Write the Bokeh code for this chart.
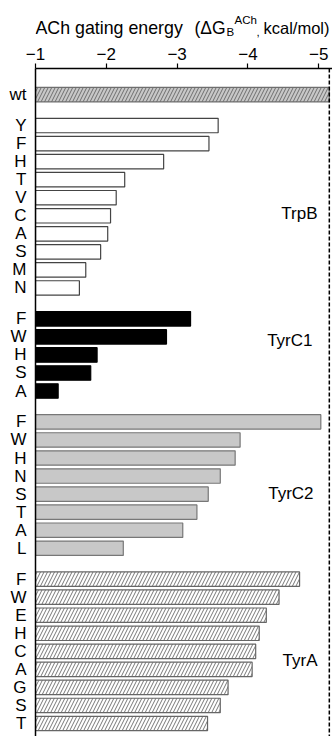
from bokeh.plotting import figure
from bokeh.layouts import column
from bokeh.models import Range1d, FixedTicker, Span, Label, ColumnDataSource
from bokeh.embed import file_html
from bokeh.resources import INLINE

# ---------------- data ----------------
wt_labels = ["wt"]
wt_values = [-5.15]

trpb_labels = ["Y", "F", "H", "T", "V", "C", "A", "S", "M", "N"]
trpb_values = [-3.58, -3.45, -2.81, -2.26, -2.14, -2.06, -2.02, -1.92, -1.71, -1.62]

tyrc1_labels = ["F", "W", "H", "S", "A"]
tyrc1_values = [-3.19, -2.85, -1.87, -1.78, -1.32]

tyrc2_labels = ["F", "W", "H", "N", "S", "T", "A", "L"]
tyrc2_values = [-5.03, -3.89, -3.82, -3.61, -3.44, -3.28, -3.08, -2.24]

tyra_labels = ["F", "W", "E", "H", "C", "A", "G", "S", "T"]
tyra_values = [-4.73, -4.44, -4.26, -4.16, -4.11, -4.06, -3.72, -3.61, -3.43]

group_names = ["wt", "TrpB", "TyrC1", "TyrC2", "TyrA"]
x_ticks = [-1, -2, -3, -4, -5]

title_main = "ACh gating energy"
title_paren = "(\u0394G"
title_sub = "B"
title_sup = "ACh"
title_comma = ","
title_unit = "kcal/mol)"

# ---------------- layout / style ----------------
FONT = "Liberation Sans"
W = 332
LEFT = 35
TITLE_H = 38
MAIN_H = 736 - TITLE_H
ROW = 100          # row spacing (y units)
GAP = 171          # distance between last row of a group and first row of next
BAR_H = 80
BASE = -1

styles = {
    "wt":    dict(fill_color="#c8c8c8", line_color="#6e6e6e", hatch_pattern="/", hatch_color="#6e6e6e", hatch_scale=7, hatch_weight=1),
    "TrpB":  dict(fill_color="white", line_color="#444444"),
    "TyrC1": dict(fill_color="black", line_color="black"),
    "TyrC2": dict(fill_color="#c8c8c8", line_color="#777777"),
    "TyrA":  dict(fill_color="white", line_color="#666666", hatch_pattern="/", hatch_color="#777777", hatch_scale=7, hatch_weight=1),
}
# group label anchors (x data, y data)
group_label_pos = {"TrpB": (-4.983, 658), "TyrC1": (-4.912, 1362), "TyrC2": (-4.927, 2209), "TyrA": (-4.983, 3135)}

all_groups = [
    ("wt", wt_labels, wt_values),
    ("TrpB", trpb_labels, trpb_values),
    ("TyrC1", tyrc1_labels, tyrc1_values),
    ("TyrC2", tyrc2_labels, tyrc2_values),
    ("TyrA", tyra_labels, tyra_values),
]

# ---------------- title strip (frame aligned with main frame: x = page pixels) ----------------
t = figure(width=W, height=TITLE_H, output_backend="svg", toolbar_location=None,
           x_range=Range1d(LEFT, W), y_range=Range1d(TITLE_H, 0),
           min_border_left=LEFT, min_border_right=0, min_border_top=0, min_border_bottom=0,
           x_axis_type=None, y_axis_type=None)
t.outline_line_color = None
t.xgrid.visible = False
t.ygrid.visible = False
title_layout = [
    (title_main, 35, 27, "17.8px"),
    (title_paren, 194, 27, "17.5px"),
    (title_sub, 226, 31, "11.5px"),
    (title_sup, 234, 19, "11.5px"),
    (title_comma, 256, 31, "11.5px"),
    (title_unit, 263, 27, "16.5px"),
]
for txt, tx, ty, fs in title_layout:
    t.add_layout(Label(x=tx, y=ty, text=txt, text_align="left", text_baseline="alphabetic",
                       text_font=FONT, text_font_size=fs, text_color="black"))

# ---------------- main chart ----------------
p = figure(width=W, height=MAIN_H, output_backend="svg", toolbar_location=None,
           x_axis_location="above",
           x_range=Range1d(-1, -5.195), y_range=Range1d(3556, -145),
           min_border_left=LEFT, min_border_right=0, min_border_top=30, min_border_bottom=0)
p.outline_line_color = None
p.xgrid.visible = False
p.ygrid.visible = False
p.background_fill_color = "white"

ticks = []
overrides = {}
pos = 0
for gi, (gname, labs, vals) in enumerate(all_groups):
    if gi > 0:
        pos += GAP - ROW
    ys = []
    for lab in labs:
        ys.append(pos)
        ticks.append(pos)
        overrides[pos] = lab
        pos += ROW
    src = ColumnDataSource(dict(y=ys, right=vals, left=[BASE] * len(vals)))
    p.hbar(y="y", left="left", right="right", height=BAR_H, source=src, line_width=1.2, **styles[gname])

# dashed wt reference
p.add_layout(Span(location=wt_values[0], dimension="height", line_color="black",
                  line_dash="4 2", line_width=1.5))

# axes
xa = p.xaxis[0]
xa.ticker = FixedTicker(ticks=x_ticks)
xa.major_label_text_font = FONT
xa.major_label_text_font_size = "17px"
xa.major_label_text_color = "black"
xa.major_label_standoff = 4
xa.major_tick_out = 5
xa.major_tick_in = 0
xa.minor_tick_out = 0
xa.minor_tick_in = 0
xa.axis_line_width = 1.5
xa.major_tick_line_width = 1.2

ya = p.yaxis[0]
ya.ticker = FixedTicker(ticks=ticks)
ya.major_label_overrides = overrides
ya.major_label_text_font = FONT
ya.major_label_text_font_size = "17px"
ya.major_label_text_color = "black"
ya.major_label_standoff = 9
ya.major_tick_out = 0
ya.major_tick_in = 0
ya.minor_tick_out = 0
ya.minor_tick_in = 0
ya.axis_line_width = 1.5

# group labels
for g in group_names[1:]:
    gx, gy = group_label_pos[g]
    p.add_layout(Label(x=gx, y=gy, text=g, text_align="right", text_baseline="middle",
                       text_font=FONT, text_font_size="17px", text_color="black"))

layout = column(t, p, spacing=0)
open("out.html", "w").write(file_html(layout, INLINE))
